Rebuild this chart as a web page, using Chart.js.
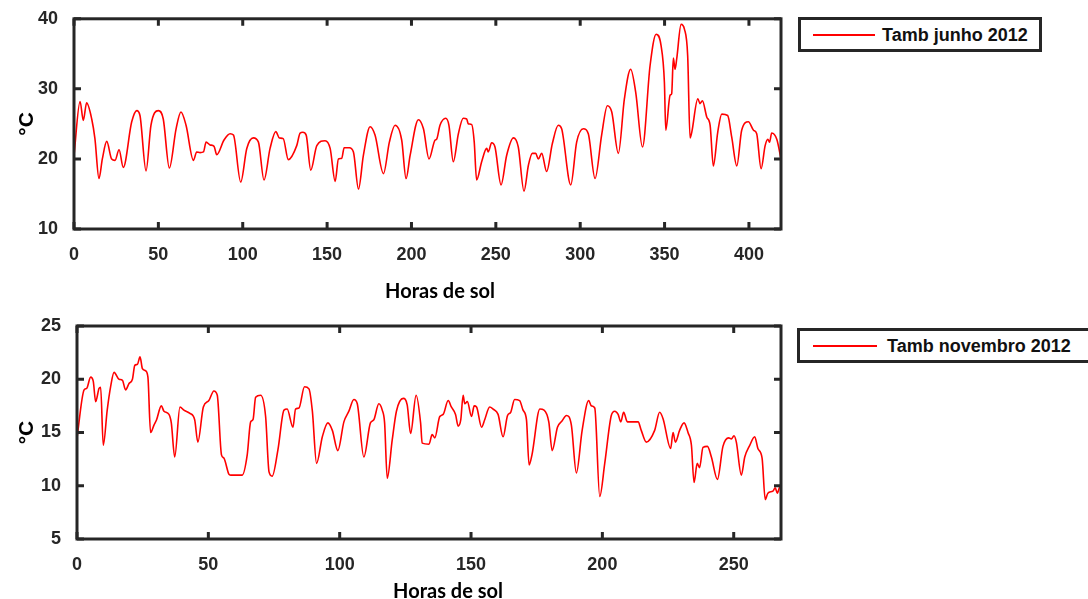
<!DOCTYPE html>
<html>
<head>
<meta charset="utf-8">
<script src="https://cdn.jsdelivr.net/npm/chart.js@4/dist/chart.umd.min.js"></script>
<style>
  body { margin: 0; width: 1088px; height: 599px; overflow: hidden; background: #fff; position: relative; }
  canvas { position: absolute; left: 0; }
  #junho { top: 0; }
  #novembro { top: 300px; }
  .legend {
    position: absolute; box-sizing: border-box; border: 3px solid #262626; background: #fff;
    font: bold 18px "Liberation Sans", Arial, sans-serif; color: #111; white-space: nowrap;
  }
  .legend .amostra { position: absolute; height: 2px; background: #ff0000; }
  .legend span { position: absolute; }
  .xlabel {
    position: absolute; transform: translate(-50%, -50%); white-space: nowrap;
    font: bold 20px Lato, "Open Sans", sans-serif; color: #000;
  }
</style>
</head>
<body>
<canvas id="junho" width="790" height="300"></canvas>
<canvas id="novembro" width="790" height="299"></canvas>

<div class="xlabel" style="left:440px; top:290px;">Horas de sol</div>
<div class="xlabel" style="left:448px; top:590px;">Horas de sol</div>

<div class="legend" style="left:798px; top:17px; width:244px; height:35px;">
  <div class="amostra" style="left:12px; top:14px; width:62px;"></div>
  <span style="left:81px; top:5px;">Tamb junho 2012</span>
</div>
<div class="legend" style="left:797px; top:328px; width:310px; height:35px;">
  <div class="amostra" style="left:13px; top:14px; width:64px;"></div>
  <span style="left:87px; top:5px;">Tamb novembro 2012</span>
</div>

<script>
// Temperatura ambiente - junho 2012
const junhoHoras = [0, 3.6, 5.5, 7.5, 10.5, 12.4, 14.8, 16.8, 19.4, 22.3, 24.3, 26.7, 29.2, 34.2, 37.2, 39.1, 42.7, 45.6, 50, 52.9,
  56.5, 60.5, 63.4, 66.4, 70.8, 72.7, 74.7, 76.7, 78.3, 80.6, 83, 84.6, 88.9, 92.5, 94.5, 98.8, 102.4, 106.3, 109.3, 112.6,
  116.2, 119.6, 121.7, 124, 127, 132, 134, 135.6, 137.6, 140.3, 143.9, 148.8, 151.8, 154.8, 156.7, 158.7, 160.1, 163.2, 165.6, 168.6,
  171.5, 175.5, 178.4, 183.4, 186.9, 190.3, 194.2, 196.8, 199.2, 204.1, 207.1, 210.4, 214, 214.9, 216.9, 220.3, 222.2, 224.8, 227.8, 230.7,
  232.7, 233.7, 235.7, 237.2, 238.6, 241.6, 244.6, 245.5, 247.5, 249.5, 253.1, 256.4, 260.4, 263.3, 266.7, 269.3, 271.6, 273.6, 275.2, 277.2,
  280.1, 283.5, 287, 289, 294.4, 297.9, 301.9, 304.8, 308.8, 312.7, 316.1, 318.7, 322.6, 326.2, 329.9, 332.9, 336.9, 341.4, 345, 347.9,
  349.9, 350.7, 353.3, 354.2, 355.2, 356.2, 357.2, 359.8, 361.8, 363.7, 365.1, 366.1, 369.7, 371, 372.4, 375, 377, 378.9, 381.5, 383.9,
  387.4, 389.8, 392.8, 395.7, 399.7, 402.7, 404.6, 407.2, 409.6, 411.2, 412.2, 413.5, 416.5, 419];
const junhoTemp = [20.5, 28.2, 25.5, 28.0, 25.7, 22.9, 17.2, 20.0, 22.5, 20.0, 19.8, 21.3, 18.8, 25.3, 26.9, 26.2, 18.3, 24.8, 26.9, 25.7,
  18.7, 24.3, 26.7, 24.8, 19.8, 21.0, 20.9, 21.0, 22.4, 22.0, 21.8, 20.6, 22.7, 23.6, 23.4, 16.7, 21.5, 23.0, 22.4, 17.0,
  21.5, 23.9, 23.0, 22.9, 19.9, 21.9, 23.7, 23.8, 23.4, 18.4, 21.9, 22.6, 21.5, 16.8, 20.0, 20.1, 21.6, 21.6, 21.0, 15.7,
  20.5, 24.6, 23.4, 17.9, 22.4, 24.8, 22.7, 17.2, 20.5, 25.6, 24.3, 20.0, 22.7, 22.8, 24.8, 25.8, 24.8, 19.6, 23.6, 25.8,
  25.7, 25.0, 24.9, 22.4, 17.0, 19.6, 21.5, 21.0, 22.3, 21.7, 16.3, 20.5, 23.0, 21.7, 15.4, 19.1, 20.8, 20.8, 20.0, 20.8,
  18.2, 22.2, 24.8, 24.3, 16.3, 22.4, 24.3, 23.6, 17.2, 23.4, 27.6, 26.7, 20.8, 28.6, 32.8, 29.5, 21.7, 33.3, 37.8, 36.2,
  30.9, 24.1, 29.1, 29.3, 34.4, 32.8, 34.3, 39.2, 38.5, 34.7, 23.0, 23.8, 28.6, 27.9, 28.3, 26.0, 24.8, 19.0, 23.8, 26.4,
  26.2, 23.1, 19.0, 24.1, 25.3, 24.1, 23.6, 18.6, 21.9, 22.8, 22.4, 23.7, 22.8, 20.0];
const junhoXTicks = [0, 50, 100, 150, 200, 250, 300, 350, 400];
const junhoYTicks = [10, 20, 30, 40];

// Temperatura ambiente - novembro 2012
const novHoras = [0, 2.7, 3.7, 5.2, 6.2, 7.1, 8.4, 9.0, 10.0, 11.5, 12.8, 14.1, 16, 17.3, 18.5, 19.8, 21.1, 22, 23, 24,
  24.9, 26.1, 27, 28, 29.3, 30.3, 32.1, 33.1, 35, 35.9, 37.2, 39.2, 40.7, 43, 44.8, 46, 48.1, 50.2, 52.1, 53.4,
  55, 55.9, 57.8, 58.5, 62.9, 64.8, 66.1, 67, 68, 69.9, 71.8, 73.1, 74.3, 76.5, 78.8, 80, 82.2, 83.2, 84.5, 86.6,
  88.3, 89.6, 91.2, 93.4, 95.5, 97.2, 99.3, 101.6, 103.5, 105.4, 106.7, 109.2, 111.7, 113, 114.9, 116.2, 117.1, 118.1, 120, 121.6,
  124.2, 125.7, 127, 129.1, 130.8, 131.4, 134, 135.2, 136.2, 138.1, 139.4, 141.3, 142.5, 144.1, 145.1, 146.1, 147, 147.6, 148.6, 150.2,
  151.2, 152.1, 154, 155.2, 157.1, 158.4, 160.3, 162.2, 163.9, 165.1, 166.6, 168.5, 169.8, 171.1, 172.1, 173.2, 176.2, 177.8, 179.6, 180.9,
  182.9, 184.7, 186.3, 188.2, 190.1, 192.3, 194.8, 195.8, 197.1, 199, 200.9, 203.4, 204.7, 206, 207, 208.1, 209.5, 213.6, 214.8, 216.7,
  219.9, 221.8, 223.1, 226, 226.9, 227.8, 229.4, 231.1, 232.6, 233.9, 234.9, 236.1, 237, 238.3, 240, 241.5, 243.8, 245.9, 248.1, 249.1,
  250.1, 251, 252.9, 254.2, 256.1, 258, 259.2, 260.8, 262, 263, 264.9, 265.8, 266.6, 267.5, 268];
const novTemp = [14.5, 19.0, 19.15, 20.2, 19.8, 17.9, 19.15, 19.25, 13.8, 17.1, 19.3, 20.65, 20.0, 19.9, 19.0, 19.6, 20.0, 21.3, 21.4, 22.1,
  21.0, 20.8, 20.2, 15.0, 15.7, 16.2, 17.5, 17.0, 16.7, 15.9, 12.7, 17.4, 17.1, 16.8, 16.2, 14.1, 17.4, 18.0, 18.9, 18.5,
  12.9, 12.6, 11.1, 11.0, 11.0, 12.9, 16.0, 16.2, 18.3, 18.5, 16.5, 11.3, 10.9, 13.4, 17.1, 17.2, 15.5, 17.2, 17.3, 19.3,
  19.1, 17.0, 12.1, 14.6, 15.9, 15.2, 13.3, 16.0, 17.0, 18.1, 17.7, 12.7, 15.9, 16.2, 17.7, 17.1, 15.9, 10.7, 14.3, 17.0,
  18.2, 17.6, 14.9, 18.5, 15.9, 14.0, 13.9, 14.8, 14.5, 16.5, 16.7, 18.0, 17.4, 16.7, 15.6, 16.2, 18.5, 17.7, 17.9, 16.5,
  17.5, 17.4, 15.5, 16.2, 17.4, 17.2, 16.7, 14.6, 16.6, 16.9, 18.1, 18.0, 17.1, 16.2, 11.95, 12.9, 17.2, 17.1, 16.0, 13.3,
  15.5, 16.1, 16.6, 15.7, 11.2, 15.2, 18.0, 17.5, 17.3, 9.0, 12.1, 16.6, 17.0, 16.7, 16.0, 16.9, 16.0, 16.0, 15.2, 14.1,
  15.2, 16.9, 16.3, 13.5, 15.0, 14.1, 15.2, 15.9, 15.0, 13.8, 10.3, 12.1, 11.7, 13.6, 13.7, 12.7, 10.6, 13.7, 14.5, 14.4,
  14.7, 14.1, 11.0, 12.7, 13.8, 14.6, 13.5, 12.6, 8.7, 9.3, 9.5, 9.8, 9.3, 9.9, 10.0];
const novXTicks = [0, 50, 100, 150, 200, 250];
const novYTicks = [5, 10, 15, 20, 25];

const corEixo = '#262626';
const fonteTicks = { family: '"Liberation Sans", Arial, sans-serif', size: 18, weight: 'bold' };

// caixa fechada com marcas de escala para dentro, nos quatro lados
const caixaEixos = {
  id: 'caixaEixos',
  afterDatasetsDraw(chart) {
    const { ctx, chartArea: a, scales: { x, y } } = chart;
    const len = 7;
    ctx.save();
    ctx.strokeStyle = corEixo;
    ctx.lineWidth = 3;
    ctx.beginPath();
    x.ticks.forEach(t => {
      const px = x.getPixelForValue(t.value);
      ctx.moveTo(px, a.bottom); ctx.lineTo(px, a.bottom - len);
      ctx.moveTo(px, a.top); ctx.lineTo(px, a.top + len);
    });
    y.ticks.forEach(t => {
      const py = y.getPixelForValue(t.value);
      ctx.moveTo(a.left, py); ctx.lineTo(a.left + len, py);
      ctx.moveTo(a.right, py); ctx.lineTo(a.right - len, py);
    });
    ctx.stroke();
    ctx.strokeRect(a.left, a.top, a.right - a.left, a.bottom - a.top);
    ctx.restore();
  }
};

function criarGrafico(id, horas, temp, cfg) {
  const pontos = horas.map((h, i) => ({ x: h, y: temp[i] }));
  return new Chart(document.getElementById(id), {
    type: 'line',
    data: {
      datasets: [{
        data: pontos,
        borderColor: '#ff0000',
        borderWidth: 1.6,
        pointRadius: 0,
        cubicInterpolationMode: 'monotone',
        fill: false
      }]
    },
    options: {
      responsive: false,
      animation: false,
      devicePixelRatio: 1,
      layout: { padding: { top: cfg.top, right: 9, left: 0, bottom: 0 } },
      plugins: { legend: { display: false }, tooltip: { enabled: false } },
      scales: {
        x: {
          type: 'linear',
          min: 0,
          max: cfg.xMax,
          afterBuildTicks: s => { s.ticks = cfg.xTicks.map(v => ({ value: v })); },
          afterFit: s => { s.height = cfg.xAltura; },
          grid: { display: false },
          border: { display: false },
          ticks: { color: corEixo, font: fonteTicks, padding: cfg.xPad, maxRotation: 0 }
        },
        y: {
          min: cfg.yMin,
          max: cfg.yMax,
          afterBuildTicks: s => { s.ticks = cfg.yTicks.map(v => ({ value: v })); },
          afterFit: s => { s.width = cfg.yLargura; },
          grid: { display: false },
          border: { display: false },
          ticks: { color: corEixo, font: fonteTicks, padding: 8 },
          title: {
            display: true,
            text: '°C',
            color: '#000',
            padding: { top: 15, bottom: 0 },
            font: { family: '"Liberation Sans", Arial, sans-serif', size: 21, weight: 'bold' }
          }
        }
      }
    },
    plugins: [caixaEixos]
  });
}

criarGrafico('junho', junhoHoras, junhoTemp, {
  top: 18, xMax: 419, xTicks: junhoXTicks, yMin: 10, yMax: 40, yTicks: junhoYTicks,
  xAltura: 71, yLargura: 74, xPad: 7
});
criarGrafico('novembro', novHoras, novTemp, {
  top: 26, xMax: 268, xTicks: novXTicks, yMin: 5, yMax: 25, yTicks: novYTicks,
  xAltura: 60, yLargura: 77, xPad: 7
});
</script>
</body>
</html>
